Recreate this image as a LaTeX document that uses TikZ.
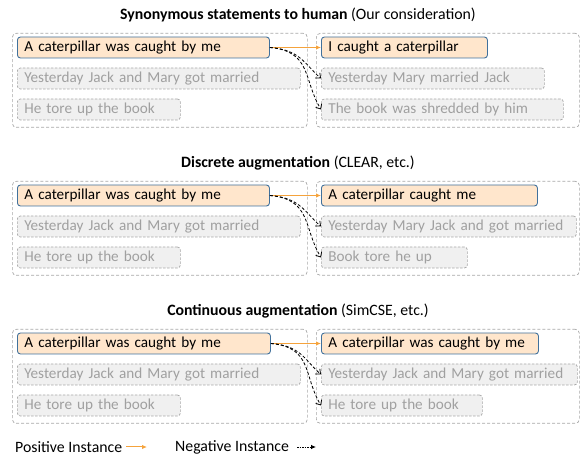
\documentclass[tikz,border=0pt]{standalone}
\usepackage{fontspec}
\setmainfont{Carlito}
\usepackage{xcolor}
\usetikzlibrary{arrows.meta}
\definecolor{posfill}{HTML}{FFE6CC}
\definecolor{posdraw}{HTML}{41719C}
\definecolor{negfill}{HTML}{F0F0F0}
\definecolor{negtext}{HTML}{A0A0A0}
\definecolor{negdraw}{HTML}{A8A8A8}
\definecolor{arrorange}{HTML}{F5A33C}

\begin{document}
\begin{tikzpicture}[x=1pt,y=-1pt]
    \tikzstyle{sent}=[anchor=west,rounded corners=3pt,inner xsep=7pt,inner ysep=0pt,minimum height=21pt,text height=11pt,text depth=3.5pt,align=left,font=\fontsize{15.2}{18}\selectfont,execute at begin node={\hbox\bgroup},execute at end node={\egroup}]
    \tikzstyle{hit}=[fill=posfill,draw=posdraw,line width=0.9pt]
    \tikzstyle{miss}=[fill=negfill,draw=negdraw,text=negtext,dash pattern=on 2.5pt off 1.5pt,line width=0.7pt]
    \tikzstyle{grp}=[anchor=north west,draw=negdraw,rounded corners=4pt,dash pattern=on 3pt off 2pt,line width=0.7pt,inner sep=0pt]
    \tikzstyle{head}=[font=\fontsize{15.8}{18}\selectfont,inner sep=0pt]
    \tikzstyle{fwd}=[draw=arrorange,line width=1pt,-{Latex[length=5pt,width=4.5pt]}]
    \tikzstyle{bwd}=[draw=black,line width=0.8pt,dash pattern=on 3pt off 2pt,-{Straight Barb[length=4pt,width=7pt]}]

    \def\dy{31}
    \def\sy{148}
    \def\by{47.5}
    \def\ox{17}
    \def\rx{321}

    \useasboundingbox (0,0) rectangle (582,457);

    % synonymous statements
    \begin{scope}[shift={(0,0)}]
    \node[head] (t) at (298,15) {\textbf{Synonymous statements to human} (Our consideration)};
    \node[grp,minimum width=295pt,minimum height=94pt] (gl) at (12,33) {};
    \node[grp,minimum width=263pt,minimum height=94pt] (gr) at (316,33) {};

    \node[sent,hit,text width=238pt]  (s1) at (\ox,\by+0*\dy) {A caterpillar was caught by me};
    \node[sent,miss,text width=269pt] (s2) at (\ox,\by+1*\dy) {Yesterday Jack and Mary got married};
    \node[sent,miss,text width=149pt] (s3) at (\ox,\by+2*\dy) {He tore up the book};

    \node[sent,hit,text width=152pt]  (p1) at (\rx,\by+0*\dy) {I caught a caterpillar};
    \node[sent,miss,text width=209pt] (n1) at (\rx,\by+1*\dy) {Yesterday Mary married Jack};
    \node[sent,miss,text width=228pt] (n2) at (\rx,\by+2*\dy) {The book was shredded by him};

   \draw [fwd] (s1) -- (p1);
   \draw [bwd] (s1.east) .. controls +(30,2) and +(-16,-14) .. (n1.west);
   \draw [bwd] (s1.east) .. controls +(42,4) and +(-18,-30) .. (n2.west);
    \end{scope}

    % discrete augmentation
    \begin{scope}[shift={(0,\sy)}]
    \node[head] (t) at (298,15) {\textbf{Discrete augmentation} (CLEAR, etc.)};
    \node[grp,minimum width=295pt,minimum height=94pt] (gl) at (12,33) {};
    \node[grp,minimum width=263pt,minimum height=94pt] (gr) at (316,33) {};

    \node[sent,hit,text width=238pt]  (s1) at (\ox,\by+0*\dy) {A caterpillar was caught by me};
    \node[sent,miss,text width=269pt] (s2) at (\ox,\by+1*\dy) {Yesterday Jack and Mary got married};
    \node[sent,miss,text width=149pt] (s3) at (\ox,\by+2*\dy) {He tore up the book};

    \node[sent,hit,text width=202pt]  (p1) at (\rx,\by+0*\dy) {A caterpillar caught me};
    \node[sent,miss,text width=241pt] (n1) at (\rx,\by+1*\dy) {Yesterday Mary Jack and got married};
    \node[sent,miss,text width=132pt] (n2) at (\rx,\by+2*\dy) {Book tore he up};

   \draw [fwd] (s1) -- (p1);
   \draw [bwd] (s1.east) .. controls +(30,2) and +(-16,-14) .. (n1.west);
   \draw [bwd] (s1.east) .. controls +(42,4) and +(-18,-30) .. (n2.west);
    \end{scope}

    % continuous augmentation
    \begin{scope}[shift={(0,2*\sy)}]
    \node[head] (t) at (298,15) {\textbf{Continuous augmentation} (SimCSE, etc.)};
    \node[grp,minimum width=295pt,minimum height=94pt] (gl) at (12,33) {};
    \node[grp,minimum width=263pt,minimum height=94pt] (gr) at (316,33) {};

    \node[sent,hit,text width=239pt]  (s1) at (\ox,\by+0*\dy) {A caterpillar was caught by me};
    \node[sent,miss,text width=269pt] (s2) at (\ox,\by+1*\dy) {Yesterday Jack and Mary got married};
    \node[sent,miss,text width=149pt] (s3) at (\ox,\by+2*\dy) {He tore up the book};

    \node[sent,hit,text width=203pt]  (p1) at (\rx,\by+0*\dy) {A caterpillar was caught by me};
    \node[sent,miss,text width=242pt] (n1) at (\rx,\by+1*\dy) {Yesterday Jack and Mary got married};
    \node[sent,miss,text width=147pt] (n2) at (\rx,\by+2*\dy) {He tore up the book};

   \draw [fwd] (s1) -- (p1);
   \draw [bwd] (s1.east) .. controls +(30,2) and +(-16,-14) .. (n1.west);
   \draw [bwd] (s1.east) .. controls +(42,4) and +(-18,-30) .. (n2.west);
    \end{scope}

    % legend
    \node[head,anchor=west,inner xsep=4pt] (lp) at (11,447) {Positive Instance};
    \coordinate (ap) at (147,447);
    \node[head,anchor=west,inner xsep=4pt] (ln) at (171,447) {Negative Instance};
    \coordinate (an) at (316,447);
   \draw [fwd] (lp.east) -- (ap);
   \draw [draw=black,line width=0.8pt,dash pattern=on 1.5pt off 1pt,-{Latex[length=5pt,width=4.5pt]}] ([xshift=4pt]ln.east) -- (an);

\end{tikzpicture}
\end{document}
